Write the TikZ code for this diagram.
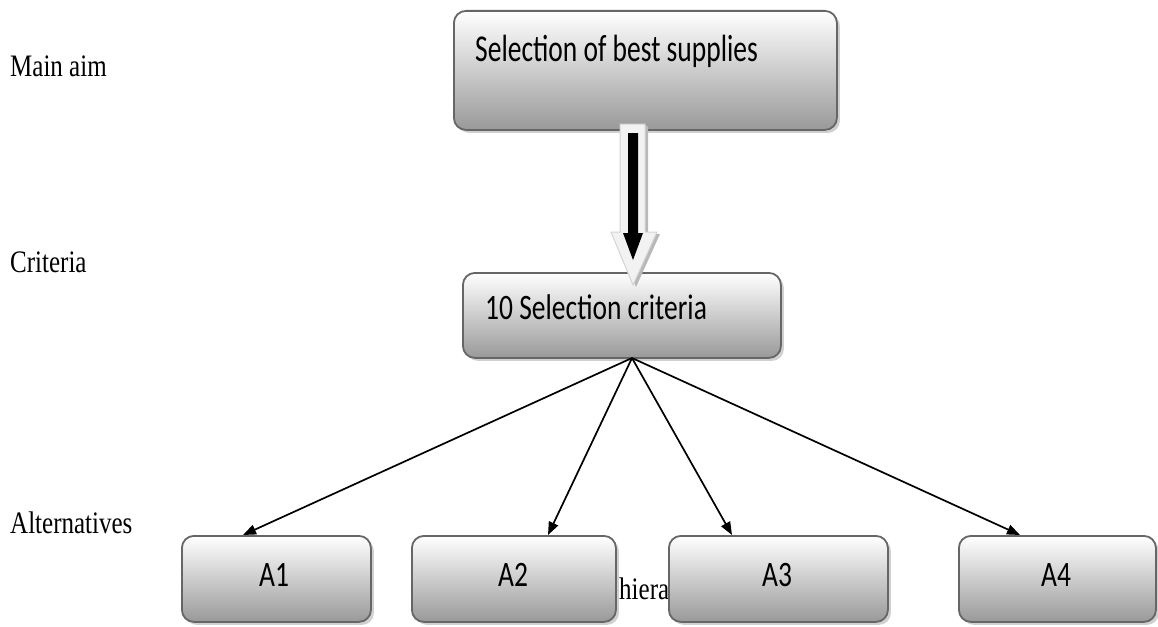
\documentclass[tikz,border=0pt]{standalone}
\usepackage{fontspec}
\usepackage{graphicx}
\setmainfont{Liberation Serif}
\newfontfamily\boxfont{Carlito}
\usetikzlibrary{arrows.meta,shadows}
\newcommand\vstretch[2]{\scalebox{1}[#1]{#2}}
\begin{document}
\begin{tikzpicture}[x=1pt,y=1pt,
  box/.style={draw=black!60, line width=1.8pt, rounded corners=12pt,
    top color=white, bottom color=black!40,
    drop shadow={shadow xshift=3pt, shadow yshift=-3pt, fill=black!30, opacity=0.6},
    inner sep=0pt, anchor=north west},
  lbl/.style={anchor=base west, inner sep=0pt, font=\fontsize{25}{30}\selectfont},
  boxtxt/.style={inner sep=0pt, font=\boxfont\fontsize{27.5}{32}\selectfont},
  conn/.style={line width=1.7pt, -{Triangle[length=13pt,width=10pt]}}]
\useasboundingbox (0,0) rectangle (1158,-626);
\fill[white] (0,0) rectangle (1158,-626);

% level labels
\node[lbl] (lmain) at (10,-77) {\vstretch{1.25}{Main aim}};
\node[lbl] (lcrit) at (10,-272) {\vstretch{1.25}{Criteria}};
\node[lbl] (lalt) at (10,-533) {\vstretch{1.25}{Alternatives}};
\node[lbl] (lhier) at (619,-599) {\vstretch{1.25}{hierar}};

% boxes
\node[box, minimum width=383, minimum height=119] (goal) at (453,-10) {};
\node[boxtxt, anchor=base west] (goaltxt) at (475,-61) {\vstretch{1.38}{Selection of best supplies}};
\node[box, minimum width=318, minimum height=85] (crit) at (462,-272) {};
\node[boxtxt, anchor=base west] (crittxt) at (485,-319) {\vstretch{1.3}{10 Selection criteria}};

\node[box, minimum width=189, minimum height=86] (a1) at (181,-535) {};
\node[box, minimum width=204, minimum height=86] (a2) at (411,-535) {};
\node[box, minimum width=219, minimum height=86] (a3) at (668,-535) {};
\node[box, minimum width=197, minimum height=86] (a4) at (958,-535) {};
\node[boxtxt, anchor=base] (a1t) at (274,-586) {\vstretch{1.3}{A1}};
\node[boxtxt, anchor=base] (a2t) at (513,-586) {\vstretch{1.3}{A2}};
\node[boxtxt, anchor=base] (a3t) at (777,-586) {\vstretch{1.3}{A3}};
\node[boxtxt, anchor=base] (a4t) at (1056,-586) {\vstretch{1.3}{A4}};

% block arrow between goal and criteria
\fill[black!28] (623,-126) -- (648,-126) -- (648,-234) -- (660,-234) -- (636,-287) -- (614,-234) -- (623,-234) -- cycle;
\filldraw[fill=black!5, draw=black!17, line width=1pt] (620,-124) -- (645,-124) -- (645,-232) -- (657,-232) -- (633,-285) -- (611,-232) -- (620,-232) -- cycle;
\fill[black] (628,-133) -- (638,-133) -- (638,-233) -- (643,-233) -- (633,-260) -- (623,-233) -- (628,-233) -- cycle;

% connectors
\coordinate (c0) at (632,-358);
\coordinate (t1) at (243,-535);
\coordinate (t2) at (548,-535);
\coordinate (t3) at (732,-535);
\coordinate (t4) at (1020,-535);
\draw[conn] (c0) -- (t1);
\draw[conn] (c0) -- (t2);
\draw[conn] (c0) -- (t3);
\draw[conn] (c0) -- (t4);
\end{tikzpicture}
\end{document}
